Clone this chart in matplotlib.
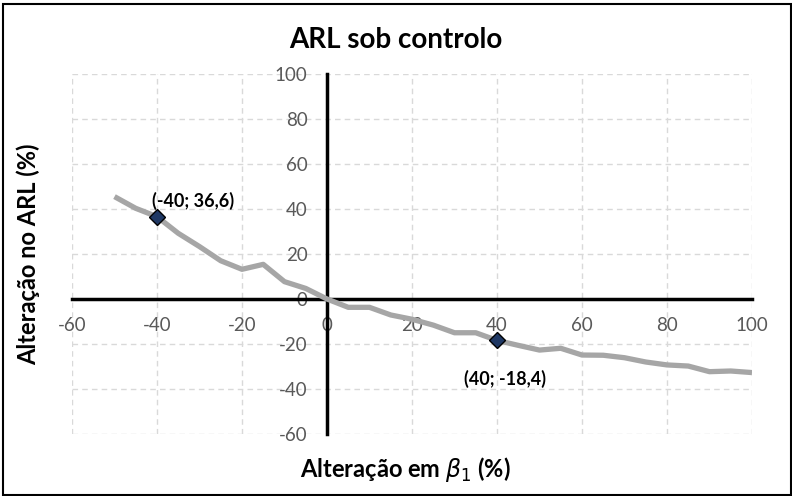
import matplotlib
matplotlib.use("Agg")
import matplotlib.pyplot as plt
from matplotlib.patches import Rectangle

plt.rcParams["font.family"] = ["Lato", "DejaVu Sans"]
plt.rcParams["mathtext.fontset"] = "dejavusans"
plt.rcParams["axes.unicode_minus"] = False

# change in beta1 (%) and change in ARL (%)
beta_change = [-50, -45, -40, -35, -30, -25, -20, -15, -10, -5, 0,
               5, 10, 15, 20, 25, 30, 35, 40, 45, 50,
               55, 60, 65, 70, 75, 80, 85, 90, 95, 100]
arl_change = [45.5, 40.3, 36.6, 29.2, 23.3, 17.0, 13.2, 15.4, 7.7, 4.7, 0.0,
              -3.7, -3.7, -7.1, -9.0, -11.6, -15.0, -15.0, -18.4, -20.6, -22.7,
              -21.9, -24.9, -25.0, -26.1, -28.0, -29.3, -29.8, -32.3, -32.0, -32.7]

marked_x = [-40, 40]
marked_y = [36.6, -18.4]
marked_labels = ["(-40; 36,6)", "(40; -18,4)"]

xticks = list(range(-60, 101, 20))
yticks = list(range(-60, 101, 20))

fig = plt.figure(figsize=(7.92, 4.96), dpi=100)
ax = fig.add_axes([72 / 792, 1 - 434 / 496, 680 / 792, 360 / 496])

ax.plot(beta_change, arl_change, color="#a6a6a6", lw=3.8, solid_capstyle="butt", zorder=3)
ax.plot(marked_x, marked_y, ls="none", marker="D", ms=8, mfc="#1f3864", mec="black", mew=1, zorder=4)

ax.annotate(marked_labels[0], (marked_x[0], marked_y[0]), xytext=(26, 11), textcoords="offset points",
            ha="center", va="center", fontsize=13, fontweight="bold", zorder=5)
ax.annotate(marked_labels[1], (marked_x[1], marked_y[1]), xytext=(6, -28), textcoords="offset points",
            ha="center", va="center", fontsize=13, fontweight="bold", zorder=5)

ax.set_xlim(-60, 100)
ax.set_ylim(-60, 100)
ax.set_xticks(xticks)
ax.set_yticks(yticks)

ax.grid(True, color="#d9d9d9", ls=(0, (4, 3)), lw=1, zorder=0)

for side in ["right", "top"]:
    ax.spines[side].set_visible(False)
ax.spines["left"].set_position(("data", 0))
ax.spines["bottom"].set_position(("data", 0))
for side in ["left", "bottom"]:
    ax.spines[side].set_linewidth(2.5)
    ax.spines[side].set_zorder(2)

ax.tick_params(axis="both", length=0, labelsize=13.5, labelcolor="#595959")
ax.tick_params(axis="y", pad=14)
ax.tick_params(axis="x", pad=13)

fig.text(0.5, 1 - 40 / 496, "ARL sob controlo", ha="center", va="center", fontsize=20, fontweight="bold")
fig.text(405 / 792, 1 - 470 / 496, r"Alteração em $\beta_1$ (%)", ha="center", va="center",
         fontsize=17, fontweight="bold")
fig.text(28 / 792, 1 - 254 / 496, "Alteração no ARL (%)", ha="center", va="center", rotation=90,
         fontsize=17, fontweight="bold")

fig.patches.append(Rectangle((3 / 792, 1 / 496), 1 - 4 / 792, 1 - 5 / 496, transform=fig.transFigure,
                             fill=False, edgecolor="black", lw=1.5))

fig.savefig("out.png", dpi=100)
